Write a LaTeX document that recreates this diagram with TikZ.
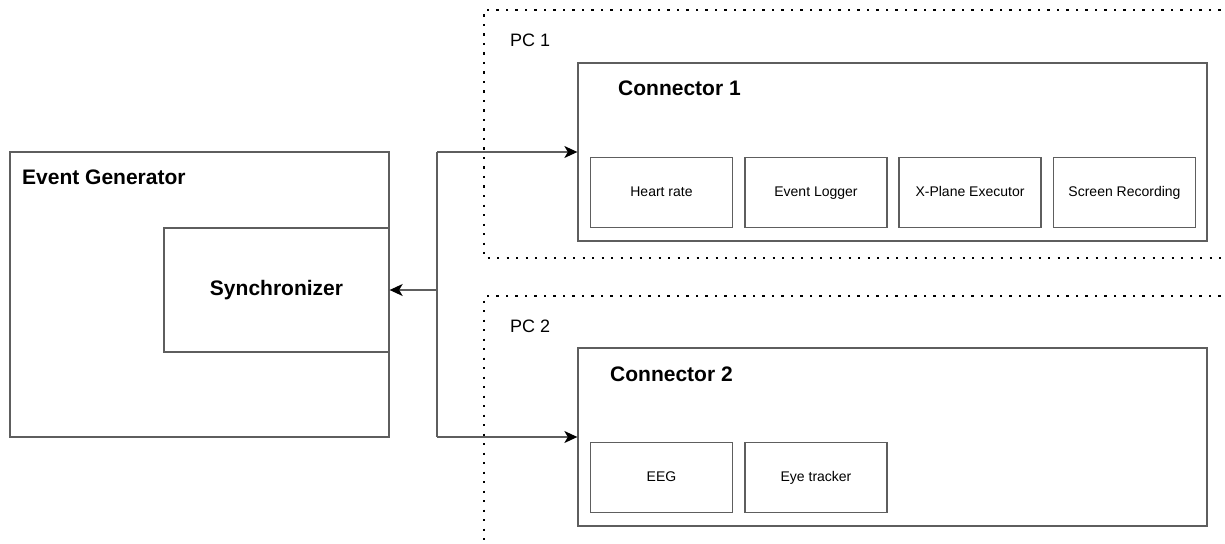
\documentclass[tikz,border=0pt]{standalone}
\usepackage{fontspec}
\setmainfont{Liberation Sans}
\usetikzlibrary{arrows.meta}
\definecolor{bd}{HTML}{5E5E5E}
\begin{document}
\begin{tikzpicture}[x=1pt,y=-1pt,
  box/.style={draw=bd,line width=1.3pt,inner sep=0pt,fill=white},
  subbox/.style={box,minimum width=142pt,minimum height=70pt,text height=10pt,text depth=3pt,font=\fontsize{14}{16}\selectfont},
  btitle/.style={anchor=west,inner sep=0pt,font=\fontsize{21}{24}\selectfont\bfseries},
  pclabel/.style={anchor=west,inner sep=0pt,font=\fontsize{18}{20}\selectfont},
  pcline/.style={black,line width=2.2pt,dash pattern=on 2.2pt off 7.3pt},
  wire/.style={draw=bd,line width=1.3pt},
  arr/.style={wire,-{Stealth[length=13pt,width=12pt,inset=3.5pt,color=black]}}]
\useasboundingbox (0,0) rectangle (1225,543);
% PC areas
\draw[pcline] (1230,10) -- (484,10) -- (484,258) -- (1230,258);
\draw[pcline] (1230,296) -- (484,296) -- (484,550);
\node[pclabel] (pc1) at (510,40) {PC 1};
\node[pclabel] (pc2) at (510,326) {PC 2};
% Event generator
\node[box,minimum width=379pt,minimum height=285pt] (eg) at (199.5,294.5) {};
\node[btitle] (egl) at (22,177) {Event Generator};
\node[box,minimum width=225pt,minimum height=124pt,font=\fontsize{21}{24}\selectfont\bfseries] (sync) at (276.5,290) {Synchronizer};
% Connector 1
\node[box,minimum width=629pt,minimum height=178pt] (c1) at (892.5,152) {};
\node[btitle] (c1l) at (618,88) {Connector 1};
\node[subbox] (hr) at (661.5,192.5) {Heart rate};
\node[subbox] (el) at (816,192.5) {Event Logger};
\node[subbox] (xp) at (970,192.5) {X-Plane Executor};
\node[subbox] (sr) at (1124.5,192.5) {Screen Recording};
% Connector 2
\node[box,minimum width=629pt,minimum height=178pt] (c2) at (892.5,437) {};
\node[btitle] (c2l) at (610,374) {Connector 2};
\node[subbox] (eeg) at (661.5,477.5) {EEG};
\node[subbox] (eye) at (816,477.5) {Eye tracker};
% connectors
\coordinate (jt) at (437,152);
\coordinate (jb) at (437,437);
\coordinate (jm) at (437,290);
\draw[wire] (jt) -- (jb);
\draw[arr] (jt) -- (c1.west);
\draw[arr] (jb) -- (c2.west);
\draw[arr] (jm) -- (sync.east);
\end{tikzpicture}
\end{document}
